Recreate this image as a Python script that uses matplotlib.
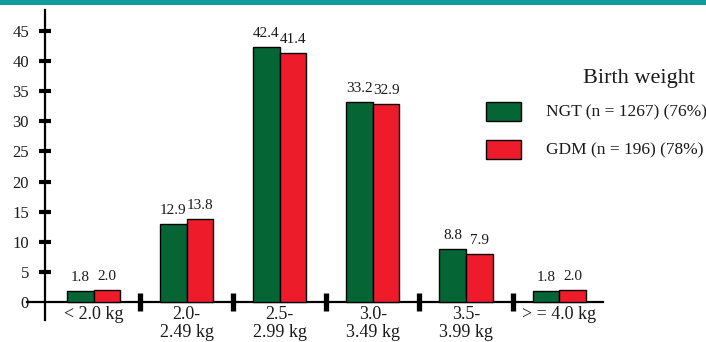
import matplotlib
matplotlib.use("Agg")
import matplotlib.pyplot as plt
from matplotlib.patches import Rectangle
import numpy as np

categories = ["< 2.0 kg", "2.0-\n2.49 kg", "2.5-\n2.99 kg", "3.0-\n3.49 kg", "3.5-\n3.99 kg", "> = 4.0 kg"]
ngt = [1.8, 12.9, 42.4, 33.2, 8.8, 1.8]
gdm = [2.0, 13.8, 41.4, 32.9, 7.9, 2.0]
series_labels = ["NGT (n = 1267) (76%)", "GDM (n = 196) (78%)"]
legend_title = "Birth weight"
yticks = [0, 5, 10, 15, 20, 25, 30, 35, 40, 45]

GREEN = "#066535"
RED = "#ee1c2b"
INK = "#1a1a1a"

plt.rcParams["font.family"] = ["Liberation Serif", "DejaVu Serif"]

W, H = 706, 342
fig = plt.figure(figsize=(W / 100, H / 100), dpi=100)

# axes laid out in pixel terms: zero line at y=302, group 0 centred at x=93.6
x_lo, x_hi = -0.715, 5.471
y_lo, y_hi = -4, 49
ax = fig.add_axes([27 / W, (H - 326) / H, 576 / W, 319 / H])
ax.set_xlim(x_lo, x_hi)
ax.set_ylim(y_lo, y_hi)

x = np.arange(len(categories))
bw = 0.285
ax.bar(x - bw / 2, ngt, bw, color=GREEN, edgecolor="black", linewidth=1, zorder=3)
ax.bar(x + bw / 2, gdm, bw, color=RED, edgecolor="black", linewidth=1, zorder=3)

for xi, v in zip(x - bw / 2, ngt):
    ax.annotate(f"{v:.1f}", (xi, v), xytext=(0, 5), textcoords="offset points",
                ha="center", va="bottom", fontsize=11, color=INK)
for xi, v in zip(x + bw / 2, gdm):
    ax.annotate(f"{v:.1f}", (xi, v), xytext=(0, 5), textcoords="offset points",
                ha="center", va="bottom", fontsize=11, color=INK)

for s in ("top", "right"):
    ax.spines[s].set_visible(False)
ax.spines["left"].set_position(("data", -0.522))
ax.spines["left"].set_bounds(-3, 48.5)
ax.spines["bottom"].set_position(("data", 0))
for s in ("left", "bottom"):
    ax.spines[s].set_linewidth(1.6)
    ax.spines[s].set_color("black")

ax.set_yticks(yticks)
ax.set_yticklabels([str(t) for t in yticks], fontsize=12, color=INK)
ax.tick_params(axis="y", direction="inout", length=8, width=3, pad=7.5, color="black")
ax.yaxis.get_major_ticks()[0].tick1line.set_visible(False)

ax.set_xticks(x)
ax.set_xticklabels(categories, fontsize=13, color=INK, linespacing=1.1)
ax.tick_params(axis="x", which="major", length=0, pad=3)
ax.set_xticks(x[:-1] + 0.5, minor=True)
ax.tick_params(axis="x", which="minor", direction="inout", length=13, width=3.8, color="black")

# legend drawn by hand on the right
fig.text(583 / W, 1 - 78 / H, legend_title, fontsize=16, color=INK, va="center", ha="left")
for (y0, col), lab in zip([(102, GREEN), (140, RED)], series_labels):
    fig.patches.append(Rectangle((486 / W, 1 - (y0 + 19) / H), 35 / W, 19 / H,
                                 transform=fig.transFigure, facecolor=col,
                                 edgecolor="black", linewidth=1))
    fig.text(546 / W, 1 - (y0 + 10) / H, lab, fontsize=12.5, color=INK, va="center", ha="left")

# teal rule along the top edge
fig.patches.append(Rectangle((0, 1 - 4.5 / H), 1, 4.5 / H, transform=fig.transFigure,
                             facecolor="#0f9c9a", edgecolor="none"))

fig.savefig("out.png", dpi=100)
